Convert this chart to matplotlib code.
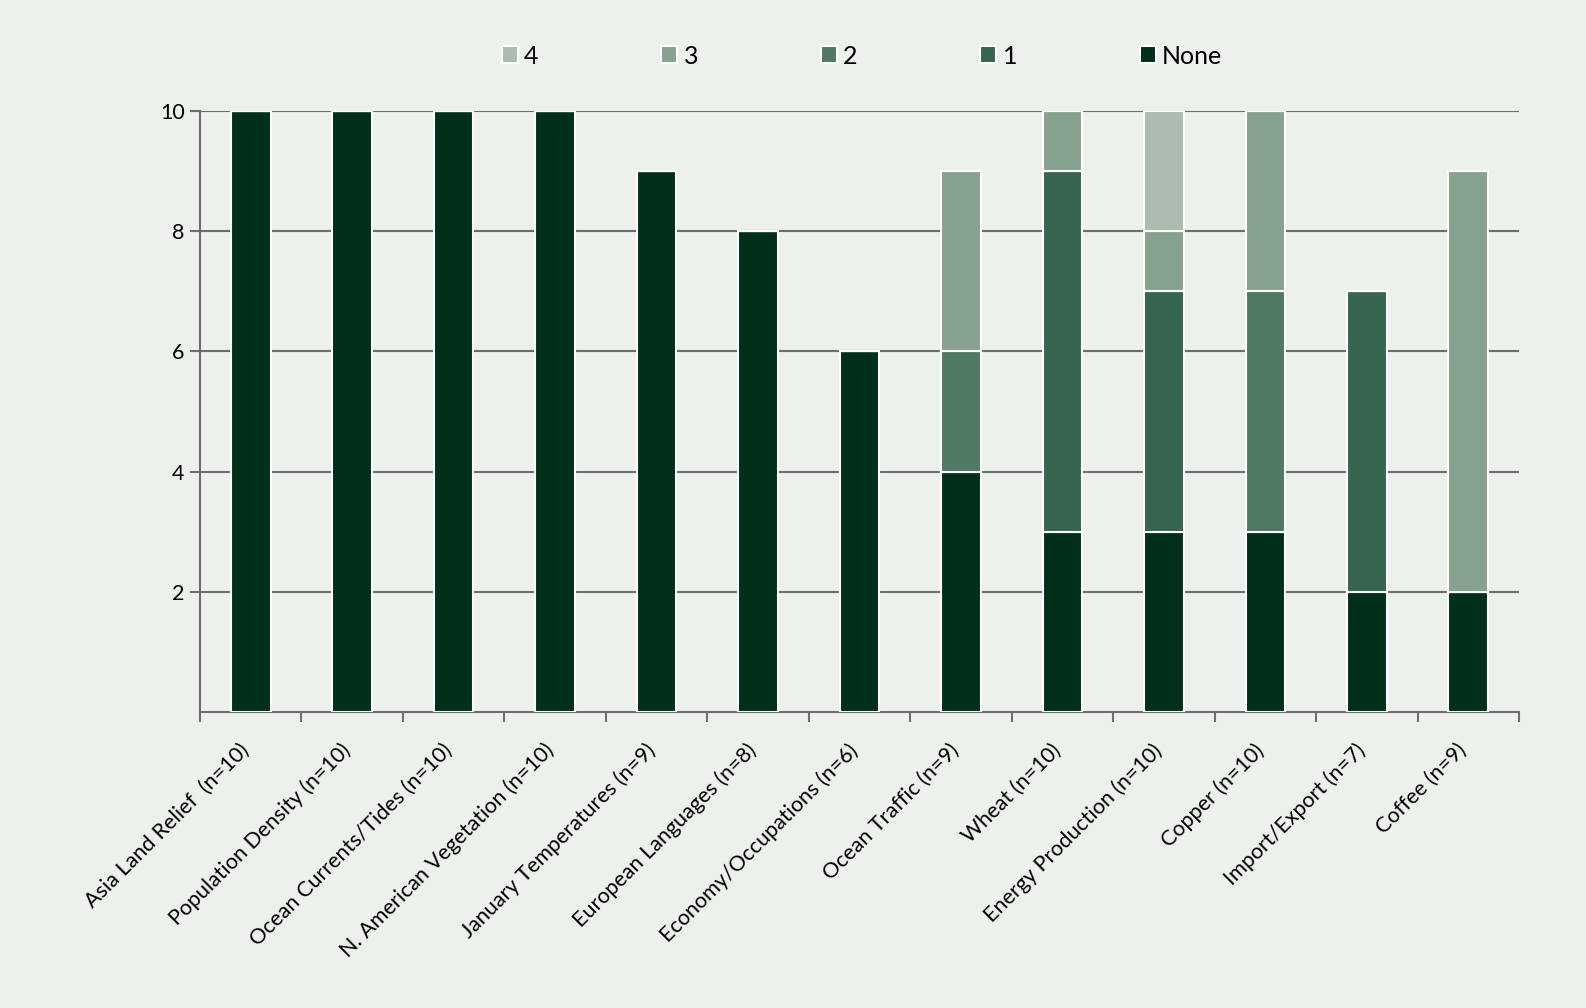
import numpy as np
import matplotlib.pyplot as plt
import matplotlib.transforms as mtransforms

plt.rcParams['font.family'] = ['Lato', 'DejaVu Sans']

categories = ['Asia Land Relief  (n=10)', 'Population Density (n=10)', 'Ocean Currents/Tides (n=10)',
              'N. American Vegetation (n=10)', 'January Temperatures (n=9)', 'European Languages (n=8)',
              'Economy/Occupations (n=6)', 'Ocean Traffic (n=9)', 'Wheat (n=10)',
              'Energy Production (n=10)', 'Copper (n=10)', 'Import/Export (n=7)', 'Coffee (n=9)']

none_vals = [10, 10, 10, 10, 9, 8, 6, 4, 3, 3, 3, 2, 2]
one_vals = [0, 0, 0, 0, 0, 0, 0, 0, 6, 4, 0, 5, 0]
two_vals = [0, 0, 0, 0, 0, 0, 0, 2, 0, 0, 4, 0, 0]
three_vals = [0, 0, 0, 0, 0, 0, 0, 3, 1, 1, 3, 0, 7]
four_vals = [0, 0, 0, 0, 0, 0, 0, 0, 0, 2, 0, 0, 0]

series = [('None', none_vals, '#00301a'), ('1', one_vals, '#386550'),
          ('2', two_vals, '#517a64'), ('3', three_vals, '#87a390'),
          ('4', four_vals, '#abbcb1')]

bg = '#edf1ec'
W, H = 1586, 1008
fig = plt.figure(figsize=(W / 100, H / 100), dpi=100, facecolor=bg)
ax = fig.add_axes([200 / W, 1 - 712 / H, 1319 / W, 601 / H], facecolor=bg)

x = np.arange(len(categories))
bottom = np.zeros(len(categories))
handles = {}
for name, vals, col in series:
    vals = np.array(vals, dtype=float)
    h = ax.bar(x, vals, 0.39, bottom=bottom, color=col, edgecolor='white', linewidth=1.5,
               label=name, zorder=3)
    handles[name] = h
    bottom += vals

ax.set_xlim(-0.5, len(categories) - 0.5)
ax.set_ylim(0, 10)
ax.set_yticks([2, 4, 6, 8, 10])
ax.yaxis.grid(True, color='#6e6e6e', linewidth=1.5, zorder=0)
ax.set_xticks(np.arange(len(categories) + 1) - 0.5)
ax.set_xticklabels([])

# category labels, rotated, anchored just below each bar
lab_tr = ax.get_xaxis_transform() + mtransforms.ScaledTranslation(-12 / 100, -28 / 100, fig.dpi_scale_trans)
for xi, cat in zip(x, categories):
    ax.text(xi, 0, cat, transform=lab_tr, rotation=45, ha='right', va='top',
            rotation_mode='anchor', fontsize=15.5, color='black')

ax.tick_params(axis='x', which='major', length=7, width=1.5, color='#6e6e6e', direction='out')
ax.tick_params(axis='y', length=7, width=1.5, color='#6e6e6e', labelsize=15.5, pad=4)
for s in ['top', 'right']:
    ax.spines[s].set_visible(False)
for s in ['left', 'bottom']:
    ax.spines[s].set_color('#6e6e6e')
    ax.spines[s].set_linewidth(1.5)

order = ['4', '3', '2', '1', 'None']
fig.legend([handles[k] for k in order], order, loc='center', bbox_to_anchor=(862 / W, 1 - 56 / H),
           ncol=5, frameon=False, fontsize=18, handlelength=0.65, handleheight=0.65,
           handletextpad=0.25, columnspacing=4.9)

fig.savefig('out.png', dpi=100, facecolor=bg)
